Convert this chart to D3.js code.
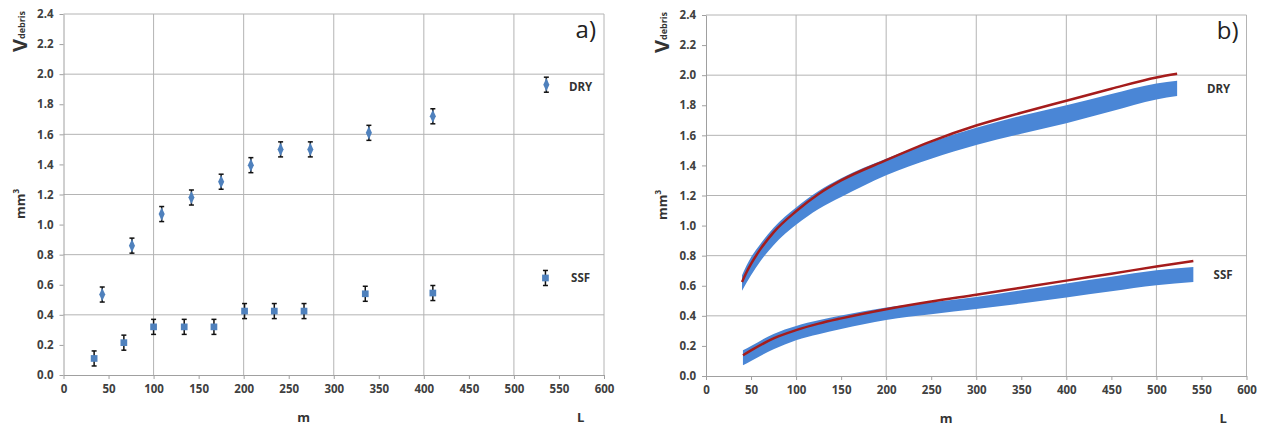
<!DOCTYPE html>
<html>
<head>
  <meta charset="utf-8">
  <script src="https://cdn.jsdelivr.net/npm/d3@7"></script>
  <style>
    body {margin:0; background:#fff;}
    text {font-family: "Open Sans", sans-serif;}
    .tick text {font-weight: bold; font-size: 11.5px; fill: #404040;}
    .grid line {stroke: #b4b4b4; stroke-width: 1;}
    .axis path, .axis line {stroke: #a0a0a0;}
  </style>
</head>
<body>
<script>
// panel a) measured points
const dryL = [43, 76, 109, 142, 175, 208, 241, 274, 339, 410, 536];
const dryV = [0.535, 0.86, 1.07, 1.18, 1.285, 1.395, 1.5, 1.5, 1.61, 1.72, 1.93];
const ssfL = [34, 67, 100, 134, 167, 201, 234, 267, 335, 410, 535];
const ssfV = [0.11, 0.215, 0.32, 0.32, 0.32, 0.425, 0.425, 0.425, 0.54, 0.545, 0.645];
const errV = 0.05;

// panel b) bands and fitted lines
const dryBandL = [40, 45, 50, 60, 75, 100, 125, 150, 200, 250, 300, 350, 400, 450, 500, 523];
const dryFit   = [0.625, 0.69, 0.745, 0.84, 0.955, 1.095, 1.21, 1.30, 1.435, 1.56, 1.665, 1.75, 1.83, 1.91, 1.985, 2.01];
const dryHigh  = [0.67, 0.735, 0.79, 0.875, 0.985, 1.12, 1.23, 1.315, 1.445, 1.555, 1.65, 1.73, 1.80, 1.875, 1.945, 1.963];
const dryLow   = [0.566, 0.62, 0.67, 0.76, 0.87, 1.005, 1.11, 1.19, 1.335, 1.445, 1.535, 1.61, 1.68, 1.76, 1.839, 1.861];

const ssfBandL = [41, 50, 75, 100, 125, 150, 200, 250, 300, 350, 400, 450, 500, 541];
const ssfFit   = [0.138, 0.17, 0.25, 0.305, 0.348, 0.383, 0.444, 0.495, 0.54, 0.587, 0.634, 0.68, 0.728, 0.765];
const ssfHigh  = [0.171, 0.20, 0.28, 0.333, 0.37, 0.402, 0.455, 0.49, 0.525, 0.57, 0.615, 0.66, 0.703, 0.725];
const ssfLow   = [0.071, 0.10, 0.178, 0.238, 0.278, 0.312, 0.372, 0.41, 0.445, 0.482, 0.522, 0.563, 0.603, 0.625];

const xTicks = d3.range(0, 601, 50);
const yTicks = d3.range(0, 2.41, 0.2);
const xGrid = [100, 200, 300, 400, 500, 600];
const yGrid = [0.4, 0.8, 1.2, 1.6, 2.0, 2.4];

const svg = d3.select("body").append("svg").attr("width", 1262).attr("height", 428);

const W = 540.5, H = 361;

function panel(left, top, tag) {
  const g = svg.append("g").attr("transform", `translate(${left},${top})`);
  const x = d3.scaleLinear().domain([0, 600]).range([0, W]);
  const y = d3.scaleLinear().domain([0, 2.4]).range([H, 0]);

  const grid = g.append("g").attr("class", "grid");
  grid.selectAll(".vx").data(xGrid).join("line")
    .attr("x1", d => x(d)).attr("x2", d => x(d)).attr("y1", 0).attr("y2", H);
  grid.selectAll(".hy").data(yGrid).join("line")
    .attr("class", "hy")
    .attr("x1", 0).attr("x2", W).attr("y1", d => y(d)).attr("y2", d => y(d));

  g.append("g").attr("class", "axis")
    .call(d3.axisLeft(y).tickValues(yTicks).tickSize(4).tickSizeOuter(0).tickPadding(6)
      .tickFormat(d3.format(".1f")));
  g.append("g").attr("class", "axis").attr("transform", `translate(0,${H})`)
    .call(d3.axisBottom(x).tickValues(xTicks).tickSize(4).tickSizeOuter(0).tickPadding(6));

  // axis titles
  const vt = g.append("text").attr("transform", `translate(-37,38) rotate(-90)`)
    .attr("fill", "#333").attr("font-weight", "bold");
  vt.append("tspan").attr("font-size", 20).text("V");
  vt.append("tspan").attr("font-size", 9).attr("dy", -2).text("debris");
  const mt = g.append("text").attr("transform", `translate(-39,190) rotate(-90)`)
    .attr("fill", "#333").attr("font-weight", "bold").attr("text-anchor", "middle");
  mt.append("tspan").attr("font-size", 13).text("mm");
  mt.append("tspan").attr("font-size", 8).attr("dy", -6).text("3");

  g.append("text").attr("x", x(300) - 30).attr("y", H + 47)
    .attr("font-weight", "bold").attr("font-size", 13).attr("fill", "#333")
    .attr("text-anchor", "middle").text("m");
  g.append("text").attr("x", x(574)).attr("y", H + 47)
    .attr("font-weight", "bold").attr("font-size", 13).attr("fill", "#333")
    .attr("text-anchor", "middle").text("L");

  g.append("text").attr("x", W - 8).attr("y", 24).attr("text-anchor", "end")
    .attr("font-size", 24).attr("fill", "#222").text(tag);

  return {g, x, y};
}

// ---- a) ----
const a = panel(63.5, 14, "a)");
function points(p, L, V, shape) {
  const pts = L.map((d, i) => ({L: d, V: V[i]}));
  const eb = p.g.append("g").attr("stroke", "#111").attr("stroke-width", 1.5);
  eb.selectAll("line.v").data(pts).join("line")
    .attr("x1", d => p.x(d.L)).attr("x2", d => p.x(d.L))
    .attr("y1", d => p.y(d.V - errV)).attr("y2", d => p.y(d.V + errV));
  [errV, -errV].forEach(e => {
    eb.selectAll(null).data(pts).join("line")
      .attr("x1", d => p.x(d.L) - 2.5).attr("x2", d => p.x(d.L) + 2.5)
      .attr("y1", d => p.y(d.V + e)).attr("y2", d => p.y(d.V + e));
  });
  p.g.append("g").selectAll("path").data(pts).join("path")
    .attr("transform", d => `translate(${p.x(d.L)},${p.y(d.V)})` + (shape === "d" ? " scale(0.8,1)" : ""))
    .attr("d", d3.symbol(shape === "d" ? d3.symbolDiamond : d3.symbolSquare, shape === "d" ? 50 : 45))
    .attr("fill", "#4f81bd");
}
points(a, dryL, dryV, "d");
points(a, ssfL, ssfV, "s");
a.g.append("text").attr("x", a.x(574)).attr("y", 77).attr("text-anchor", "middle")
  .attr("font-weight", "bold").attr("font-size", 11.5).attr("fill", "#333").text("DRY");
a.g.append("text").attr("x", a.x(574)).attr("y", 268).attr("text-anchor", "middle")
  .attr("font-weight", "bold").attr("font-size", 11.5).attr("fill", "#333").text("SSF");

// ---- b) ----
const b = panel(706, 15, "b)");
function band(p, L, lo, hi, fit) {
  const rows = L.map((d, i) => ({L: d, lo: lo[i], hi: hi[i], fit: fit[i]}));
  p.g.append("path").datum(rows)
    .attr("d", d3.area().x(d => p.x(d.L)).y0(d => p.y(d.lo)).y1(d => p.y(d.hi)).curve(d3.curveMonotoneX))
    .attr("fill", "#4a86d6");
  p.g.append("path").datum(rows)
    .attr("d", d3.line().x(d => p.x(d.L)).y(d => p.y(d.fit)).curve(d3.curveMonotoneX))
    .attr("fill", "none").attr("stroke", "#a51c1c").attr("stroke-width", 2.5);
}
band(b, dryBandL, dryLow, dryHigh, dryFit);
band(b, ssfBandL, ssfLow, ssfHigh, ssfFit);
b.g.append("text").attr("x", b.x(569)).attr("y", 78).attr("text-anchor", "middle")
  .attr("font-weight", "bold").attr("font-size", 11.5).attr("fill", "#333").text("DRY");
b.g.append("text").attr("x", b.x(574)).attr("y", 264).attr("text-anchor", "middle")
  .attr("font-weight", "bold").attr("font-size", 11.5).attr("fill", "#333").text("SSF");
</script>
</body>
</html>
